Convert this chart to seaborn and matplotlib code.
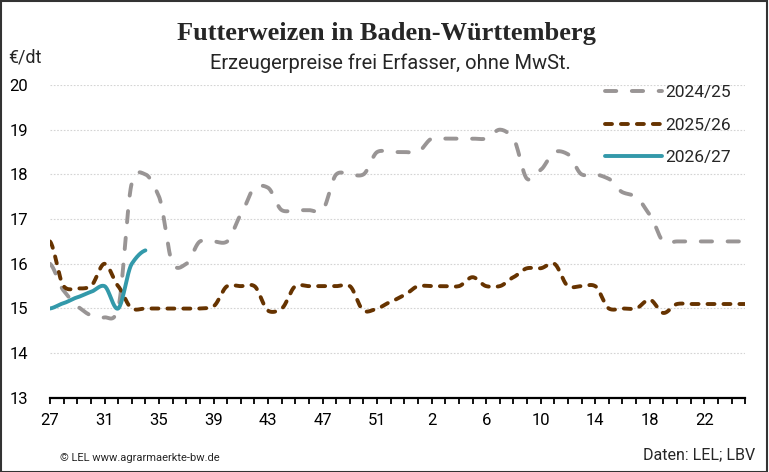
import numpy as np
import pandas as pd
import matplotlib.pyplot as plt
import seaborn as sns
from matplotlib.patches import Rectangle

# Kalenderwochen (Wirtschaftsjahr KW 27 bis KW 25, mit KW 53)
weeks = list(range(27, 54)) + list(range(1, 26))
tick_weeks = [27, 31, 35, 39, 43, 47, 51, 2, 6, 10, 14, 18, 22]

p_2024 = [16.0, 15.4, 15.05, 14.85, 14.8, 15.0, 17.8, 18.0, 17.5, 16.0,
          16.0, 16.5, 16.5, 16.5, 17.1, 17.7, 17.7, 17.2, 17.2, 17.2,
          17.2, 18.0, 18.0, 18.0, 18.5, 18.5, 18.5, 18.5, 18.8, 18.8,
          18.8, 18.8, 18.8, 19.0, 18.8, 17.9, 18.1, 18.5, 18.45, 18.0,
          18.0, 17.9, 17.6, 17.5, 17.1, 16.5, 16.5, 16.5, 16.5, 16.5,
          16.5, 16.5]
p_2025 = [16.5, 15.5, 15.45, 15.5, 16.0, 15.5, 15.0, 15.0, 15.0, 15.0,
          15.0, 15.0, 15.05, 15.5, 15.5, 15.5, 14.95, 15.0, 15.5, 15.5,
          15.5, 15.5, 15.5, 14.95, 15.0, 15.15, 15.3, 15.5, 15.5, 15.5,
          15.5, 15.7, 15.5, 15.5, 15.7, 15.9, 15.9, 16.0, 15.5, 15.5,
          15.5, 15.0, 15.0, 15.0, 15.2, 14.9, 15.1, 15.1, 15.1, 15.1,
          15.1, 15.1]
p_2026 = [15.0, 15.12, 15.25, 15.37, 15.5, 15.0, 16.0, 16.3]

series_names = ['2024/25', '2025/26', '2026/27']
colors = ['#999595', '#663300', '#3399AA']


def smooth(y, n=24, c=0.7):
    # Kardinal-Spline Glaettung (etwas weniger Ueberschwingen als Catmull-Rom)
    y = np.asarray(y, float)
    p = np.concatenate([[y[0]], y, [y[-1]]])
    m = c * (p[2:] - p[:-2]) / 2
    xs, ys = [], []
    t = np.linspace(0, 1, n, endpoint=False)
    h00 = 2 * t ** 3 - 3 * t ** 2 + 1
    h10 = t ** 3 - 2 * t ** 2 + t
    h01 = -2 * t ** 3 + 3 * t ** 2
    h11 = t ** 3 - t ** 2
    for i in range(len(y) - 1):
        ys.append(h00 * y[i] + h10 * m[i] + h01 * y[i + 1] + h11 * m[i + 1])
        xs.append(i + t)
    xs.append([len(y) - 1])
    ys.append([y[-1]])
    return np.concatenate(xs), np.concatenate(ys)


sns.set_theme(style="white")
plt.rcParams['font.family'] = ['Roboto', 'DejaVu Sans']

fig = plt.figure(figsize=(7.69, 4.72), dpi=100)
ax = fig.add_axes([0.065, 0.157, 0.904, 0.663])

styles = [dict(linestyle=(0, (2.9, 4.0)), linewidth=2.8),
          dict(linestyle=(0, (1.8, 2.3)), linewidth=2.8),
          dict(linestyle='-', linewidth=2.8)]

for name, vals, color, st in zip(series_names, [p_2024, p_2025, p_2026], colors, styles):
    xs, ys = smooth(vals)
    df = pd.DataFrame({'x': xs, 'y': ys})
    sns.lineplot(data=df, x='x', y='y', ax=ax, color=color, label=name,
                 sort=False, estimator=None, dash_capstyle='round',
                 solid_capstyle='round', **st)

ax.set_xlim(0, len(weeks) - 1)
ax.set_ylim(13, 20)
ax.set_yticks(range(13, 21))
ax.set_xticks(range(len(weeks)))
ax.set_xticklabels([str(w) if w in tick_weeks and i < 49 else '' for i, w in enumerate(weeks)])
ax.set_xlabel('')
ax.set_ylabel('')

for v in range(14, 21):
    ax.axhline(v, color='#d4d4d4', linewidth=0.8, linestyle=(0, (1.5, 1.5)), zorder=0)

for s in ['top', 'right', 'left']:
    ax.spines[s].set_visible(False)
ax.spines['bottom'].set_color('black')
ax.spines['bottom'].set_linewidth(1.6)
ax.tick_params(axis='x', bottom=True, length=4, width=1.3, color='black',
               direction='out', labelsize=12, pad=7, labelcolor='black')
ax.tick_params(axis='y', left=False, labelsize=12, pad=10, labelcolor='black')

leg = ax.legend(loc='upper right', frameon=False, fontsize=12.5, handlelength=3.3,
                handletextpad=0.2, labelspacing=1.0, borderaxespad=0.0,
                bbox_to_anchor=(0.99, 1.022))

fig.text(0.502, 0.93, 'Futterweizen in Baden-Württemberg', ha='center', va='center',
         fontsize=19, fontweight='bold', family='Liberation Serif')
fig.text(0.508, 0.866, 'Erzeugerpreise frei Erfasser, ohne MwSt.', ha='center',
         va='center', fontsize=14.5)
fig.text(0.010, 0.879, '€/dt', ha='left', va='center', fontsize=13)
fig.text(0.078, 0.03, '© LEL www.agrarmaerkte-bw.de', ha='left', va='center', fontsize=8)
fig.text(0.982, 0.036, 'Daten: LEL; LBV', ha='right', va='center', fontsize=11.5)

fig.patches.append(Rectangle((0.001, 0.001), 0.997, 0.997, transform=fig.transFigure,
                             fill=False, edgecolor='#333333', linewidth=1.5))

plt.savefig('out.png', dpi=100)
